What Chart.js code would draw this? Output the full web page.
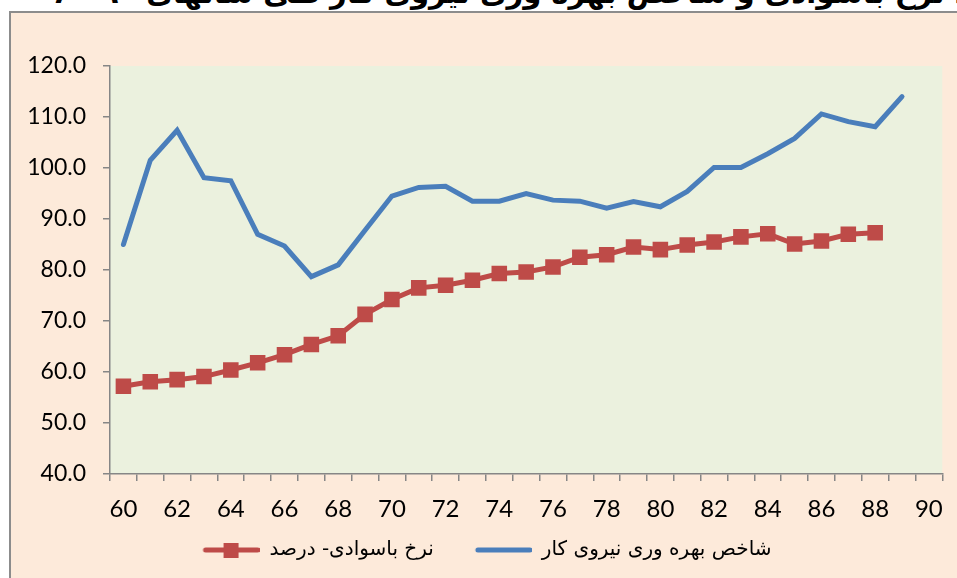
<!DOCTYPE html>
<html>
<head>
<meta charset="utf-8">
<script src="https://cdn.jsdelivr.net/npm/chart.js@4.4.1/dist/chart.umd.min.js"></script>
<style>
  html, body { margin: 0; padding: 0; background: #fff; overflow: hidden; }
  #title {
    position: absolute; top: -24px; right: -60px;
    font: bold 29px "DejaVu Sans", sans-serif; color: #000;
    direction: rtl; white-space: nowrap;
  }
  #frame {
    position: absolute; left: 9px; top: 11px; width: 1000px; height: 620px;
    background: #FDEADA; border: 2px solid #8C8C8C;
  }
  #wrap { position: absolute; left: 0; top: 0; width: 957px; height: 578px; }
</style>
</head>
<body>
<div id="title">روند نرخ باسوادی و شاخص بهره وری نیروی کار طی سالهای ۹۰-۶۰</div>
<div id="frame"></div>
<div id="wrap"><canvas id="chart"></canvas></div>
<script>
// years 60..90 (solar hijri, short form)
const years = ['60','61','62','63','64','65','66','67','68','69','70','71','72','73','74','75',
               '76','77','78','79','80','81','82','83','84','85','86','87','88','89','90'];

// نرخ باسوادی - درصد
const literacy = [57.2, 58.1, 58.5, 59.1, 60.4, 61.8, 63.4, 65.4, 67.1, 71.3, 74.2, 76.5, 77.0, 78.0,
                  79.3, 79.6, 80.6, 82.5, 83.0, 84.5, 84.0, 84.9, 85.5, 86.5, 87.1, 85.1, 85.7, 87.0, 87.3];

// شاخص بهره وری نیروی کار
const productivity = [85.0, 101.5, 107.4, 98.1, 97.5, 87.0, 84.7, 78.7, 81.0, 87.8, 94.5, 96.2, 96.4, 93.5,
                      93.5, 95.0, 93.7, 93.5, 92.1, 93.4, 92.4, 95.4, 100.1, 100.1, 102.8, 105.8, 110.6,
                      109.1, 108.1, 114.0];

const seriesNames = ['نرخ باسوادی- درصد', 'شاخص بهره وری نیروی کار'];

const RED = '#BE4B48';
const BLUE = '#4A7EBB';

// legend samples: a line (with a square marker for the red series);
// the blank strip on the left gives the gap between the two entries
function legendSample(color, withMarker) {
    const c = document.createElement('canvas');
    c.width = 88; c.height = 16;
    const g = c.getContext('2d');
    g.strokeStyle = color;
    g.lineWidth = 5;
    g.lineCap = 'round';
    g.beginPath();
    g.moveTo(34, 8);
    g.lineTo(86, 8);
    g.stroke();
    if (withMarker) {
        g.fillStyle = color;
        g.fillRect(52, 1, 15, 15);
    }
    return c;
}
const samples = [legendSample(RED, true), legendSample(BLUE, false)];

// plot area fill
const plotBg = {
    id: 'plotBg',
    beforeDraw(chart) {
        const a = chart.chartArea;
        const ctx = chart.ctx;
        ctx.save();
        ctx.fillStyle = '#EBF1DE';
        ctx.fillRect(a.left, a.top, a.right - a.left, a.bottom - a.top);
        ctx.restore();
    }
};

const ctx = document.getElementById('chart').getContext('2d');
const chart = new Chart(ctx, {
    type: 'line',
    data: {
        labels: years,
        datasets: [{
            label: seriesNames[0],
            data: literacy,
            borderColor: RED,
            backgroundColor: RED,
            borderWidth: 5,
            pointStyle: 'rect',
            pointRadius: 11,
            pointBackgroundColor: RED,
            pointBorderColor: RED,
            pointBorderWidth: 0,
            tension: 0
        }, {
            label: seriesNames[1],
            data: productivity,
            borderColor: BLUE,
            backgroundColor: BLUE,
            borderWidth: 5,
            borderCapStyle: 'round',
            pointRadius: 0,
            tension: 0
        }]
    },
    options: {
        responsive: true,
        maintainAspectRatio: false,
        animation: false,
        layout: {
            padding: { top: 66, right: 14, bottom: 8, left: 0 }
        },
        scales: {
            x: {
                offset: true,
                grid: {
                    offset: true,
                    drawOnChartArea: false,
                    color: '#868686',
                    lineWidth: 1.5,
                    tickLength: 7
                },
                border: { color: '#868686', width: 1.5 },
                ticks: {
                    autoSkip: false,
                    maxRotation: 0,
                    padding: 14,
                    color: '#000',
                    font: { family: 'Lato', size: 24 },
                    callback: (v, i) => (i % 2 === 0 ? years[i] : '')
                },
                afterFit: s => { s.height = 56; }
            },
            y: {
                min: 40,
                max: 120,
                grid: {
                    drawOnChartArea: false,
                    color: '#868686',
                    lineWidth: 1.5,
                    tickLength: 7
                },
                border: { color: '#868686', width: 1.5 },
                ticks: {
                    stepSize: 10,
                    padding: 17,
                    color: '#000',
                    font: { family: 'Lato', size: 23 },
                    callback: v => v.toFixed(1)
                },
                afterFit: s => { s.width = 110; }
            }
        },
        plugins: {
            tooltip: { enabled: false },
            legend: {
                position: 'bottom',
                labels: {
                    color: '#000',
                    font: { family: 'DejaVu Sans', size: 20 },
                    usePointStyle: true,
                    pointStyleWidth: 88,
                    boxHeight: 16,
                    padding: 10,
                    generateLabels(chart) {
                        const items = Chart.defaults.plugins.legend.labels.generateLabels(chart);
                        items.forEach((it, i) => { it.pointStyle = samples[i]; });
                        return items;
                    }
                }
            }
        }
    },
    plugins: [plotBg]
});
</script>
</body>
</html>
